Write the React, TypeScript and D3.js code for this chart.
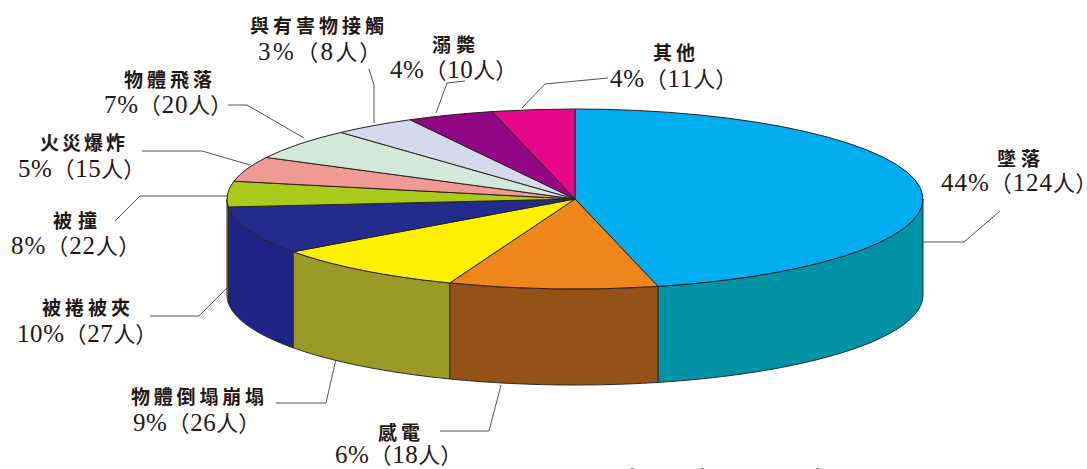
import React from 'react';
import * as d3 from 'd3';

// categories clockwise from 12 o'clock
const categories = ['墜落', '感電', '物體倒塌崩塌', '被捲被夾', '被撞', '火災爆炸', '物體飛落', '與有害物接觸', '溺斃', '其他'];
const people = [124, 18, 26, 27, 22, 15, 20, 8, 10, 11];
const percents = [44, 6, 9, 10, 8, 5, 7, 3, 4, 4];
// the printed pie isn't to scale, these are the sweeps (degrees)
const drawnSweeps = [166.2, 34.9, 33, 30.8, 16.5, 16.1, 20.2, 14, 14.5, 13.8];
const topColors = ['#00ADEE', '#EF861C', '#FFF000', '#232B8C', '#AACB1C', '#F09A94', '#D2E9DA', '#D5D9EE', '#920784', '#E6078A'];
const sideColors = ['#0093A5', '#955216', '#999A27', '#1F2385', '#8A9A1F', '#C07A75', '#A8BBAE', '#AAAEBE', '#75066A', '#B8066E'];

// label boxes: [x, width, baseline] for name and for value line
const nameBoxes = [
  [997, 43, 166], [378, 42, 440], [131, 133, 404], [42, 88, 315], [53, 44, 228],
  [40, 85, 150], [124, 88, 87], [250, 134, 33], [432, 43, 52], [653, 42, 60],
];
const valueBoxes = [
  [941, 146, 191], [335, 117, 463], [133, 117, 431], [17, 130, 342], [11, 119, 254],
  [18, 117, 177], [104, 118, 113], [258, 113, 60], [390, 117, 78], [610, 117, 87],
];
const leaders: [number, number][][] = [
  [[923, 242], [964, 242], [1000, 211]],
  [[440, 431], [489, 431], [501, 385]],
  [[276, 403], [326, 403], [336, 359]],
  [[150, 316], [199, 316], [227, 288]],
  [[115, 221], [140, 196], [227, 196]],
  [[142, 151], [202, 151], [250, 165]],
  [[228, 105], [247, 105], [304, 138]],
  [[369, 69], [374, 85], [374, 123]],
  [[465, 81], [447, 83], [436, 113]],
  [[608, 78], [545, 84], [522, 108]],
];
// tops of a line of text that the crop cut off, bottom edge of the picture
const croppedSpecks = [631, 701, 816];

const width = 1087;
const height = 469;
const cx = 575;
const cy = 199;
const rx = 348;
const ry = 90;
const depth = 96;

const pie = d3.pie<number>().sort(null).value(d => d);
const slices = pie(drawnSweeps);
const arc = d3.arc<d3.PieArcDatum<number>>().innerRadius(0).outerRadius(100);
const line = d3.line();

// wall of one slice, only the part on the front half of the ellipse shows
function sidePath(a0: number, a1: number) {
  const start = Math.max(a0, Math.PI / 2);
  const end = Math.min(a1, (Math.PI * 3) / 2);
  if (end <= start) return null;
  const angles = d3.range(0, 41).map(i => start + ((end - start) * i) / 40);
  const top = angles.map(a => [cx + rx * Math.sin(a), cy - ry * Math.cos(a)] as [number, number]);
  const bottom = angles.map(a => [cx + rx * Math.sin(a), cy - ry * Math.cos(a) + depth] as [number, number]).reverse();
  return line([...top, ...bottom]) + 'Z';
}

const latinFont = '"Liberation Serif", "Noto Sans CJK TC", serif';
const nameFont = '"Noto Sans CJK TC", sans-serif';

export default function App() {
  return (
    <svg width={width} height={height} style={{ position: 'absolute', left: 0, top: 0, background: '#fff' }}>
      <g>
        {leaders.map((pts, i) => (
          <path key={i} d={line(pts) ?? ''} fill="none" stroke="#555" strokeWidth={1} />
        ))}
      </g>
      <g stroke="#2b2b2b" strokeWidth={1}>
        {slices.map((s, i) => {
          const d = sidePath(s.startAngle, s.endAngle);
          return d ? <path key={i} d={d} fill={sideColors[i]} /> : null;
        })}
      </g>
      <g transform={`translate(${cx},${cy}) scale(${rx / 100},${ry / 100})`} stroke="#2b2020" strokeWidth={1}>
        {slices.map((s, i) => (
          <path key={i} d={arc(s) ?? ''} fill={topColors[i]} vectorEffect="non-scaling-stroke" />
        ))}
      </g>
      <g fill="#231815">
        {categories.map((name, i) => (
          <text
            key={name}
            x={nameBoxes[i][0]}
            y={nameBoxes[i][2]}
            textLength={nameBoxes[i][1]}
            lengthAdjust="spacing"
            fontFamily={nameFont}
            fontWeight={700}
            fontSize={19}
          >
            {name}
          </text>
        ))}
        {categories.map((name, i) => (
          <text
            key={name + '-v'}
            x={valueBoxes[i][0]}
            y={valueBoxes[i][2]}
            textLength={valueBoxes[i][1]}
            lengthAdjust="spacing"
            fontFamily={latinFont}
            fontSize={25}
          >
            {percents[i]}%<tspan fontSize={22}>（</tspan>{people[i]}<tspan fontSize={22}>人</tspan>
            <tspan fontSize={22} style={{ fontFeatureSettings: '"palt"' }}>）</tspan>
          </text>
        ))}
      </g>
      <g fill="#777">
        {croppedSpecks.map(x => (
          <rect key={x} x={x} y={468} width={3} height={1} />
        ))}
      </g>
    </svg>
  );
}
